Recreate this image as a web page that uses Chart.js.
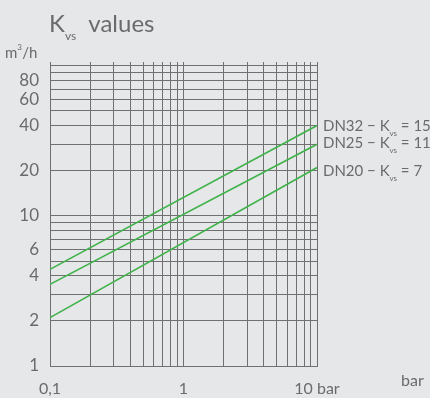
<!DOCTYPE html>
<html>
<head>
<meta charset="utf-8">
<script src="https://cdn.jsdelivr.net/npm/chart.js@4/dist/chart.umd.min.js"></script>
<style>
  html, body { margin: 0; padding: 0; background: #e6e7e9; }
  #wrap { width: 430px; height: 398px; position: relative; }
</style>
</head>
<body>
<div id="wrap"><canvas id="kvsChart" width="430" height="398"></canvas></div>
<script>
// pressure drop (bar) at the two ends of each line, flow in m3/h
var pressure = [0.1, 10];
var dn20 = [2.1, 21];
var dn25 = [3.5, 30];
var dn32 = [4.4, 40];

var seriesNames = ["DN32", "DN25", "DN20"];
var kvsValues = [15, 11, 7];

var xGrid = [0.1, 0.2, 0.3, 0.4, 0.5, 0.6, 0.7, 0.8, 0.9, 1, 2, 3, 4, 5, 6, 7, 8, 9, 10];
var yGrid = [1, 2, 3, 4, 5, 6, 7, 8, 9, 10, 20, 30, 40, 50, 60, 70, 80, 90, 100];
var xLabels = { 0.1: "0,1", 1: "1", 10: "10 bar" };
var yLabels = [1, 2, 4, 6, 10, 20, 40, 60, 80];

var textColor = "#6b6b6b";
var gridColor = "#707070";
var green = "#3fb34a";
var fontFamily = "Lato, 'Open Sans', sans-serif";

function toPoints(ys) {
  return pressure.map(function (p, i) { return { x: p, y: ys[i] }; });
}

function drawSub(ctx, x, y, main, sub, rest, size) {
  ctx.font = size + "px " + fontFamily;
  ctx.fillText(main, x, y);
  x += ctx.measureText(main).width;
  ctx.font = Math.round(size * 0.5) + "px " + fontFamily;
  ctx.fillText(sub, x, y + size * 0.32);
  x += ctx.measureText(sub).width + size * 0.25;
  ctx.font = size + "px " + fontFamily;
  ctx.fillText(rest, x, y);
}

var textPlugin = {
  id: "texts",
  afterDraw: function (c) {
    var ctx = c.ctx;
    ctx.save();
    ctx.fillStyle = textColor;
    ctx.textBaseline = "alphabetic";
    ctx.textAlign = "left";
    // title
    drawSub(ctx, 49, 32, "K", "vs", " values", 24);
    // unit
    ctx.font = "15px " + fontFamily;
    ctx.fillText("m", 5, 58);
    var w = ctx.measureText("m").width;
    ctx.font = "8px " + fontFamily;
    ctx.fillText("3", 5 + w, 50);
    ctx.font = "15px " + fontFamily;
    ctx.fillText("/h", 5 + w + 5, 58);
    // line labels
    var baselines = [131, 148, 176];
    for (var i = 0; i < seriesNames.length; i++) {
      drawSub(ctx, 323, baselines[i], seriesNames[i] + " \u2212 K", "vs", "= " + kvsValues[i], 15);
    }
    // stray axis unit
    ctx.font = "16px " + fontFamily;
    ctx.fillText("bar", 401, 386);
    ctx.restore();
  }
};

var chart = new Chart(document.getElementById("kvsChart"), {
  type: "line",
  data: {
    datasets: [
      { label: "DN32", data: toPoints(dn32), borderColor: green, borderWidth: 1.6, pointRadius: 0, fill: false },
      { label: "DN25", data: toPoints(dn25), borderColor: green, borderWidth: 1.6, pointRadius: 0, fill: false },
      { label: "DN20", data: toPoints(dn20), borderColor: green, borderWidth: 1.6, pointRadius: 0, fill: false }
    ]
  },
  options: {
    responsive: false,
    animation: false,
    layout: { padding: { top: 62, right: 113, left: 0, bottom: 0 } },
    plugins: { legend: { display: false }, title: { display: false }, tooltip: { enabled: false } },
    scales: {
      x: {
        type: "logarithmic",
        min: 0.1,
        max: 10,
        afterBuildTicks: function (s) { s.ticks = xGrid.map(function (v) { return { value: v }; }); },
        afterFit: function (s) { s.height = 32; },
        grid: { color: gridColor, lineWidth: 1, drawTicks: false },
        border: { color: gridColor, width: 1 },
        ticks: {
          autoSkip: false,
          maxRotation: 0,
          padding: 13,
          color: textColor,
          font: { family: fontFamily, size: 16 },
          callback: function (v) { return xLabels[v] || ""; }
        }
      },
      y: {
        type: "logarithmic",
        min: 1,
        max: 106,
        afterBuildTicks: function (s) { s.ticks = yGrid.map(function (v) { return { value: v }; }); },
        afterFit: function (s) { s.width = 50; },
        grid: { color: gridColor, lineWidth: 1, drawTicks: false },
        border: { color: gridColor, width: 1 },
        ticks: {
          autoSkip: false,
          padding: 11,
          color: textColor,
          font: { family: fontFamily, size: 17 },
          callback: function (v) { return yLabels.indexOf(v) >= 0 ? String(v) : ""; }
        }
      }
    }
  },
  plugins: [textPlugin]
});
</script>
</body>
</html>
